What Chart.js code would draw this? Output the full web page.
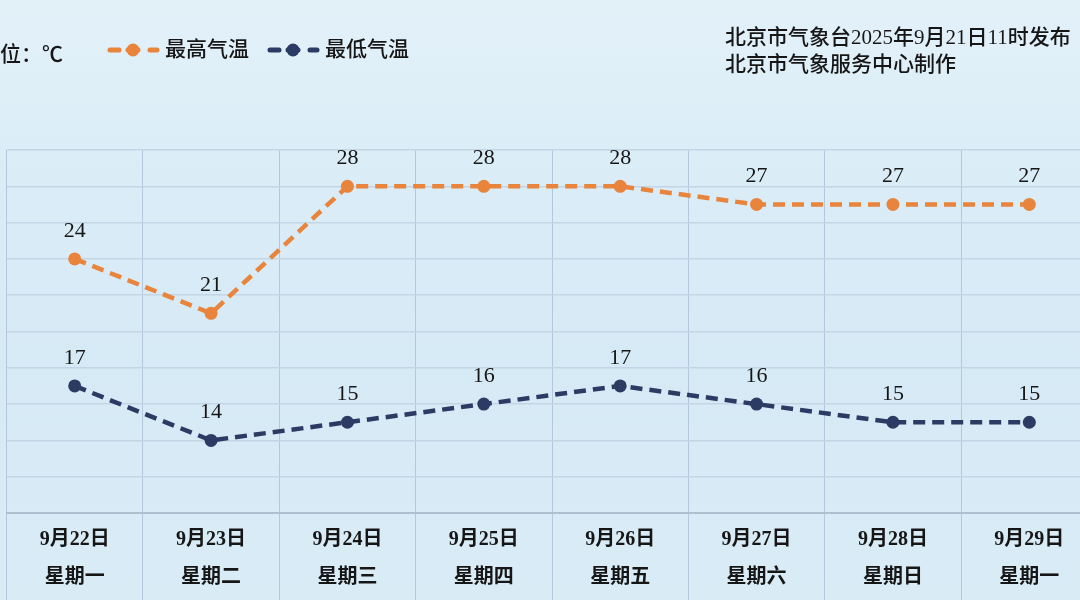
<!DOCTYPE html>
<html>
<head>
<meta charset="utf-8">
<script src="https://cdn.jsdelivr.net/npm/chart.js@4.4.1/dist/chart.umd.min.js"></script>
<style>
  html, body { margin: 0; padding: 0; overflow: hidden; width: 1080px; height: 600px; }
  body { background: linear-gradient(180deg, #e3f1f9 0%, #dbedf7 25%, #d6eaf6 60%, #d9ecf6 100%); }
  #wrap { position: absolute; left: 0; top: 0; width: 1104px; height: 600px; }
</style>
</head>
<body>
<div id="wrap"><canvas id="c" width="1104" height="600"></canvas></div>
<script>
const dates = ["9月22日", "9月23日", "9月24日", "9月25日", "9月26日", "9月27日", "9月28日", "9月29日"];
const weekdays = ["星期一", "星期二", "星期三", "星期四", "星期五", "星期六", "星期日", "星期一"];
const highTemps = [24, 21, 28, 28, 28, 27, 27, 27];
const lowTemps = [17, 14, 15, 16, 17, 16, 15, 15];
const seriesNames = ["最高气温", "最低气温"];
const unitText = "单位：℃";
const headerLines = ["北京市气象台2025年9月21日11时发布", "北京市气象服务中心制作"];

const ORANGE = "#e8843c";
const NAVY = "#2b3b63";
const FONT = '"Liberation Serif", "Noto Sans CJK SC", serif';
const TEXT = "#161616";

const labels = dates.map((d, i) => [d, weekdays[i]]);

const overlay = {
  id: "overlay",
  afterDatasetsDraw(chart) {
    const ctx = chart.ctx;
    ctx.save();
    ctx.font = "22px " + FONT;
    ctx.fillStyle = TEXT;
    ctx.textAlign = "center";
    ctx.textBaseline = "middle";
    chart.data.datasets.forEach((ds, di) => {
      const meta = chart.getDatasetMeta(di);
      meta.data.forEach((pt, i) => {
        ctx.fillText(String(ds.data[i]), pt.x, pt.y - 28);
      });
    });
    ctx.restore();
  },
  afterDraw(chart) {
    const ctx = chart.ctx;
    ctx.save();
    ctx.fillStyle = TEXT;
    ctx.textBaseline = "middle";
    ctx.textAlign = "left";
    ctx.font = "500 21px " + FONT;
    ctx.fillText(unitText, -21, 55);

    const items = [
      { x: 107, color: ORANGE, text: seriesNames[0] },
      { x: 267, color: NAVY, text: seriesNames[1] }
    ];
    items.forEach(it => {
      const y = 50;
      ctx.strokeStyle = it.color;
      ctx.fillStyle = it.color;
      ctx.lineWidth = 5;
      ctx.lineCap = "round";
      ctx.beginPath();
      ctx.moveTo(it.x + 3, y); ctx.lineTo(it.x + 12, y);
      ctx.moveTo(it.x + 21, y); ctx.lineTo(it.x + 31, y);
      ctx.moveTo(it.x + 43, y); ctx.lineTo(it.x + 50, y);
      ctx.stroke();
      ctx.beginPath();
      ctx.arc(it.x + 26, y, 6.5, 0, Math.PI * 2);
      ctx.fill();
      ctx.fillStyle = TEXT;
      ctx.fillText(it.text, it.x + 58, y);
    });

    ctx.font = "500 21px " + FONT;
    ctx.fillText(headerLines[0], 725, 38);
    ctx.fillText(headerLines[1], 725, 65);
    ctx.restore();
  }
};

new Chart(document.getElementById("c"), {
  type: "line",
  data: {
    labels: labels,
    datasets: [
      {
        label: seriesNames[0],
        data: highTemps,
        borderColor: ORANGE,
        backgroundColor: ORANGE,
        borderWidth: 4.5,
        borderDash: [12, 7],
        pointRadius: 6.5,
        pointBorderWidth: 0,
        pointBackgroundColor: ORANGE,
        tension: 0
      },
      {
        label: seriesNames[1],
        data: lowTemps,
        borderColor: NAVY,
        backgroundColor: NAVY,
        borderWidth: 4.5,
        borderDash: [12, 7],
        pointRadius: 6.5,
        pointBorderWidth: 0,
        pointBackgroundColor: NAVY,
        tension: 0
      }
    ]
  },
  options: {
    responsive: false,
    animation: false,
    devicePixelRatio: 1,
    layout: { padding: { top: 150, left: 5, right: 3, bottom: 0 } },
    plugins: { legend: { display: false }, tooltip: { enabled: false } },
    scales: {
      x: {
        offset: true,
        grid: {
          offset: true,
          color: "#b3c8dc",
          lineWidth: 1,
          drawTicks: true,
          tickLength: 87,
          tickColor: "#b3c8dc"
        },
        border: { display: true, color: "#aebfcf", width: 2 },
        ticks: {
          padding: -79,
          color: TEXT,
          font: { family: FONT, size: 20, weight: "600", lineHeight: 1.9 },
          maxRotation: 0,
          autoSkip: false
        },
        afterFit(scale) { scale.height = 87; }
      },
      y: {
        min: 10,
        max: 30,
        ticks: { display: false, stepSize: 2 },
        grid: { color: "#c3d5e4", lineWidth: 1.5, drawTicks: false },
        border: { display: false },
        afterFit(scale) { scale.width = 0; }
      }
    }
  },
  plugins: [overlay]
});
</script>
</body>
</html>
